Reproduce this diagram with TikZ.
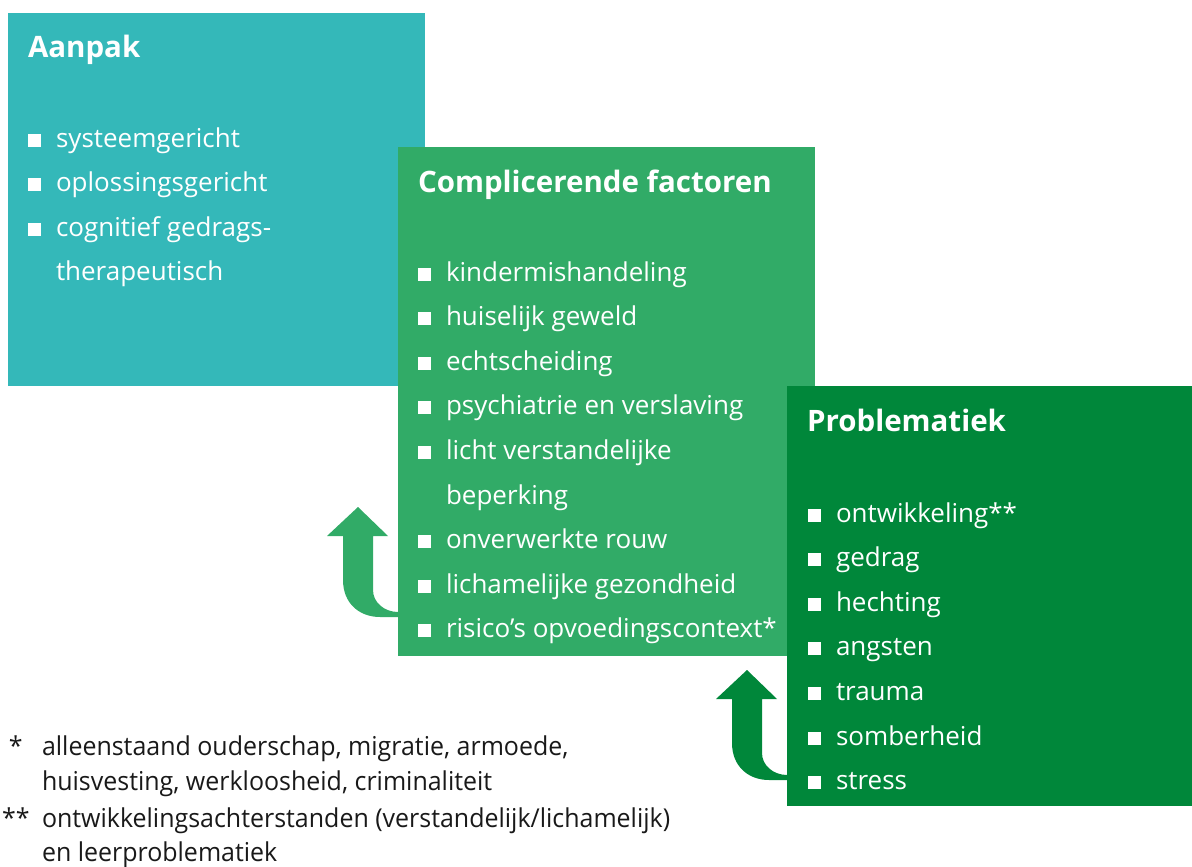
\documentclass[tikz,border=0pt]{standalone}
\usepackage{fontspec}
\setmainfont{Open Sans}
\newfontfamily\notefont[FakeStretch=0.96]{Open Sans}
\usetikzlibrary{calc,positioning}
\definecolor{aanpakteal}{RGB}{52,184,185}
\definecolor{compgreen}{RGB}{49,171,103}
\definecolor{probgreen}{RGB}{0,135,58}
\newcommand{\blt}{\makebox[28pt][l]{\rule[0.5pt]{13pt}{13pt}}}
\newcommand{\nob}{\hspace*{28pt}}
\tikzstyle{every node}=[inner sep=0pt,outer sep=0pt]
\tikzstyle{box}=[anchor=north west]
\tikzstyle{boxtitle}=[anchor=base west,text=white,font=\fontsize{29.5}{35}\selectfont\bfseries]
\tikzstyle{boxitem}=[anchor=base west,text=white,font=\fontsize{26}{31}\selectfont]
\tikzstyle{noteline}=[anchor=base west,text=black!90,font=\notefont\fontsize{26}{31}\selectfont]

\begin{document}
\begin{tikzpicture}[x=1pt,y=-1pt]
  \useasboundingbox (0,0) rectangle (1192,867);
  \node[box,fill=aanpakteal,minimum width=417pt,minimum height=373pt] (aanpak) at (8,13) {};
  \node[box,fill=compgreen,minimum width=417pt,minimum height=509pt] (comp) at (398,147) {};
  \node[box,fill=probgreen,minimum width=405pt,minimum height=420pt] (prob) at (787,386) {};

  \node[boxtitle] (aanpaktitle) at ($(aanpak.north west)+(20,45)$) {Aanpak};
  \node[boxtitle] (comptitle) at ($(comp.north west)+(20,45)$) {Complicerende factoren};
  \node[boxtitle] (probtitle) at ($(prob.north west)+(20,45)$) {Problematiek};

  \foreach \t [count=\i from 0] in {\blt systeemgericht,\blt oplossingsgericht,
      \blt cognitief gedrags-,\nob therapeutisch}
    \node[boxitem] (aanpak-\i) at ($(aanpak.north west)+(20,134+44.6*\i)$) {\t};
  \foreach \t [count=\i from 0] in {\blt kindermishandeling,\blt huiselijk geweld,
      \blt echtscheiding,\blt psychiatrie en verslaving,\blt licht verstandelijke,
      \nob beperking,\blt onverwerkte rouw,\blt lichamelijke gezondheid,
      \blt risico’s opvoedingscontext*}
    \node[boxitem] (comp-\i) at ($(comp.north west)+(20,134+44.6*\i)$) {\t};
  \foreach \t [count=\i from 0] in {\blt ontwikkeling**,\blt gedrag,\blt hechting,
      \blt angsten,\blt trauma,\blt somberheid,\blt stress}
    \node[boxitem] (prob-\i) at ($(prob.north west)+(21,136+44.6*\i)$) {\t};

  % u-turn arrows
  \coordinate (arrA) at ($(comp.north west)+(0,470)$);
  \coordinate (arrB) at ($(prob.north west)+(0,394)$);
  \foreach \p/\c in {arrA/compgreen,arrB/probgreen}
    \fill[\c,shift={(\p)}] (0,0) -- (-18,0) .. controls (-39,0) and (-55,-14) .. (-55,-37)
      -- (-55,-81) -- (-71,-81) -- (-40,-110) -- (-10,-81) -- (-25,-81) -- (-25,-27)
      .. controls (-25,-14) and (-13,-5) .. (0,-5) -- cycle;

  \node[noteline] (star1) at (9,755) {*};
  \node[noteline] (note1a) at (42,755) {alleenstaand ouderschap, migratie, armoede,};
  \node[noteline] (note1b) at (42,790) {huisvesting, werkloosheid, criminaliteit};
  \node[noteline] (star2) at (2,827) {**};
  \node[noteline] (note2a) at (42,827) {ontwikkelingsachterstanden (verstandelijk/lichamelijk)};
  \node[noteline] (note2b) at (42,861) {en leerproblematiek};
\end{tikzpicture}
\end{document}
